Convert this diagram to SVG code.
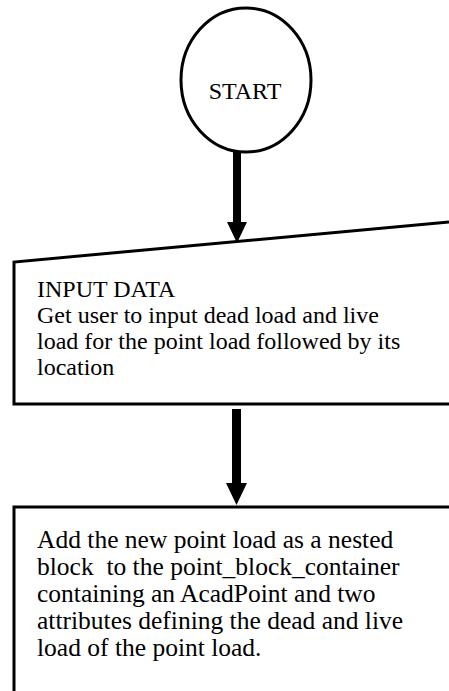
<svg xmlns="http://www.w3.org/2000/svg" width="449" height="691" viewBox="0 0 449 691">
<style>
.t{font-family:"Liberation Serif","Times New Roman",serif;font-size:24px;fill:#000;white-space:pre}
.b3{font-size:25.5px}
.ln{fill:none;stroke:#000;stroke-width:3}
.ar{fill:#000;stroke:none}
</style>
<rect width="449" height="691" fill="#fff"/>
<g id="start">
<ellipse class="ln" cx="246" cy="80" rx="65" ry="72" stroke-width="2.5"/>
<text class="t" x="245" y="99" text-anchor="middle" font-size="22">START</text>
</g>
<g id="input">
<polyline class="ln" points="449,222 14,262 14,404 449,404"/>
<text class="t" x="37" y="297">INPUT DATA</text>
<text class="t" x="37" y="323">Get user to input dead load and live</text>
<text class="t" x="37" y="349">load for the point load followed by its</text>
<text class="t" x="37" y="375">location</text>
</g>
<g id="add">
<polyline class="ln" points="449,507 14,507 14,691"/>
<text class="t b3" x="37" y="548">Add the new point load as a nested</text>
<text class="t b3" x="37" y="575">block  to the point_block_container</text>
<text class="t b3" x="37" y="602">containing an AcadPoint and two</text>
<text class="t b3" x="37" y="629">attributes defining the dead and live</text>
<text class="t b3" x="37" y="656">load of the point load.</text>
</g>
<g id="connectors">
<path class="ar" d="M233,152 H241 V222 H247 L237,243 L227,222 H233 Z"/>
<path class="ar" d="M232,409 H241 V483 H247 L236.5,505 L226,483 H232 Z"/>
</g>
</svg>
